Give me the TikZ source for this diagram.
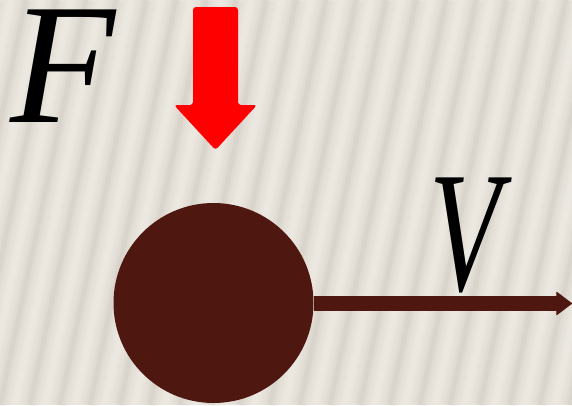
\documentclass[tikz,border=0pt]{standalone}
\usepackage{fontspec}
\setmainfont{Liberation Serif}
\usetikzlibrary{arrows.meta}
\definecolor{ballbrown}{RGB}{78,23,16}
\definecolor{paper}{RGB}{233,229,221}
\definecolor{paperdark}{RGB}{188,182,170}
\definecolor{forcered}{RGB}{255,0,0}
\begin{document}
\begin{tikzpicture}[x=1pt, y=-1pt,
    ball/.style={circle, fill=ballbrown, minimum size=200pt, inner sep=0pt},
    letter/.style={inner sep=0pt, anchor=base west, text height=116pt, text depth=0pt,
        font=\fontsize{172}{172}\selectfont\itshape},
    velocity/.style={ballbrown, line width=15pt,
        -{Triangle[length=16pt, width=24pt, line width=1pt, round]}}]
    \useasboundingbox (0,0) rectangle (572,405);
    \fill[paper] (0,0) rectangle (572,405);
    \begin{scope}
        \clip (0,0) rectangle (572,405);
        \foreach \x in {-90,-60,...,600} {
            \draw[paperdark, line width=18pt, opacity=0.08] (\x,405) -- (\x+86,0);
            \draw[paperdark, line width=11pt, opacity=0.12] (\x,405) -- (\x+86,0);
            \draw[paperdark, line width=5pt, opacity=0.16] (\x,405) -- (\x+86,0);
            \draw[white, line width=6pt, opacity=0.12] (\x+15,405) -- (\x+101,0);
        }
    \end{scope}
    \node[ball] (ball) at (213.5,303) {};
    \coordinate (vend) at (572,303.5);
    \draw[velocity] (ball.east |- vend) -- (vend);
    \fill[forcered, rounded corners=3pt] (193,7) -- (238,7) -- (238,105) -- (257,105)
        -- (215.5,150) -- (174,105) -- (193,105) -- cycle;
    \node[letter] (force) at (10,122) {F};
    \node[letter, xscale=0.68, transform shape] (speed) at (429,290) {V};
\end{tikzpicture}
\end{document}
